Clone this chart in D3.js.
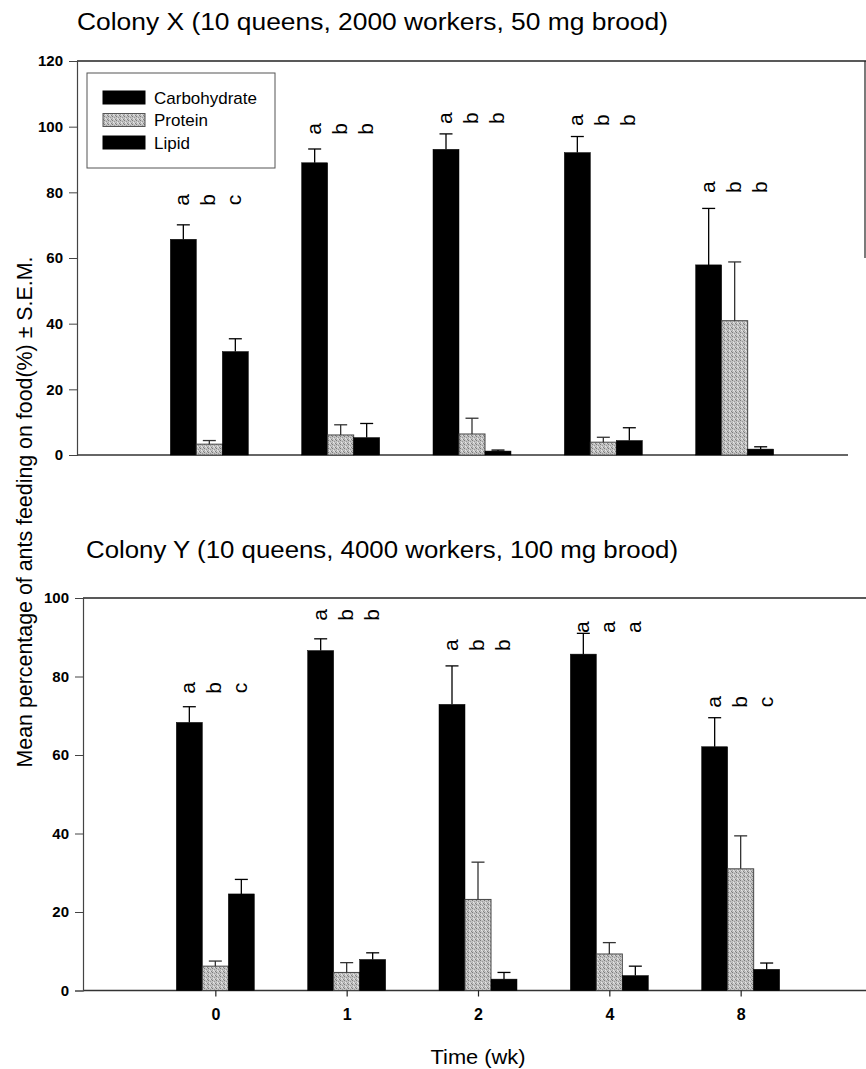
<!DOCTYPE html>
<html>
<head>
<meta charset="utf-8">
<script src="https://cdn.jsdelivr.net/npm/d3@7"></script>
<style>
  html, body { margin: 0; padding: 0; background: #fff; }
  svg { display: block; }
  text { font-family: "Liberation Sans", Arial, sans-serif; fill: #000; }
</style>
</head>
<body>
<svg id="chart" width="866" height="1069"></svg>
<script>
// ---------- data ----------
const weeks = ["0", "1", "2", "4", "8"];
const seriesNames = ["Carbohydrate", "Protein", "Lipid"];

// Colony X
const xCarb    = [65.7, 89.0, 93.1, 92.1, 57.9];
const xCarbSem = [4.4, 4.2, 4.7, 4.9, 17.2];
const xProt    = [3.3, 6.1, 6.4, 3.9, 40.9];
const xProtSem = [1.1, 3.1, 4.8, 1.5, 17.9];
const xLip     = [31.5, 5.3, 1.2, 4.4, 1.8];
const xLipSem  = [3.9, 4.3, 0.3, 3.9, 0.7];
const xLetters = [["a","b","c"], ["a","b","b"], ["a","b","b"], ["a","b","b"], ["a","b","b"]];
const xLetterLevel = [77.7, 99.3, 102.6, 102, 81.6];

// Colony Y
const yCarb    = [68.3, 86.6, 72.9, 85.7, 62.1];
const yCarbSem = [4.0, 3.0, 9.8, 5.3, 7.4];
const yProt    = [6.2, 4.6, 23.2, 9.3, 31.0];
const yProtSem = [1.3, 2.5, 9.5, 2.9, 8.4];
const yLip     = [24.6, 7.9, 2.9, 3.8, 5.4];
const yLipSem  = [3.7, 1.7, 1.7, 2.4, 1.6];
const yLetters = [["a","b","c"], ["a","b","b"], ["a","b","b"], ["a","a","a"], ["a","b","c"]];
const yLetterLevel = [77.1, 95.7, 88, 92.6, 73.5];

const ticksTopPanel = [0, 20, 40, 60, 80, 100, 120];
const ticksBottomPanel = [0, 20, 40, 60, 80, 100];

const titleX = "Colony X (10 queens, 2000 workers, 50 mg brood)";
const titleY = "Colony Y (10 queens, 4000 workers, 100 mg brood)";
const yAxisLabel = "Mean percentage of ants feeding on food(%) \u00B1 S.E.M.";
const xAxisLabel = "Time (wk)";

// ---------- drawing ----------
const svg = d3.select("#chart");
const defs = svg.append("defs");
const pat = defs.append("pattern").attr("id", "stipple")
  .attr("patternUnits", "userSpaceOnUse").attr("width", 4).attr("height", 4);
pat.append("rect").attr("width", 4).attr("height", 4).attr("fill", "#c2c2c2");
[[0,0,"#7a7a7a"],[2,1,"#999"],[1,2,"#e8e8e8"],[3,3,"#828282"],[2,3,"#dedede"],[0,2,"#a8a8a8"]].forEach(([px,py,c]) =>
  pat.append("rect").attr("x", px).attr("y", py).attr("width", 1).attr("height", 1).attr("fill", c));

const fills = ["#000", "url(#stipple)", "#000"];
const strokes = ["#000", "#444", "#000"];
const barW = 26;

function panel(cfg) {
  const g = svg.append("g");
  const y = d3.scaleLinear().domain([0, cfg.max]).range([cfg.y0, cfg.yTop]);
  const x = d3.scalePoint().domain(weeks).range([cfg.axisX + 1, cfg.axisX + 789]).padding(1);

  g.append("line").attr("x1", cfg.axisX).attr("x2", 866).attr("y1", y(cfg.max)).attr("y2", y(cfg.max))
    .attr("stroke", "#222").attr("stroke-width", 1.3);
  if (cfg.rightDown !== undefined) {
    g.append("line").attr("x1", 865).attr("x2", 865).attr("y1", y(cfg.max)).attr("y2", y(cfg.rightDown))
      .attr("stroke", "#222").attr("stroke-width", 1.2);
  }
  g.append("line").attr("x1", cfg.axisX).attr("x2", cfg.baseEnd).attr("y1", y(0)).attr("y2", y(0))
    .attr("stroke", "#333").attr("stroke-width", 1.3);

  const ya = g.append("g").attr("transform", `translate(${cfg.axisX},0)`)
    .call(d3.axisLeft(y).tickValues(cfg.ticks).tickSize(8).tickPadding(6).tickFormat(d3.format("d")));
  ya.select(".domain").attr("stroke", "#444").attr("stroke-width", 1.2);
  ya.selectAll(".tick line").attr("stroke", "#444");
  ya.selectAll("text").style("font-size", "15px").style("font-weight", "bold")
    .style("font-family", "'Liberation Sans', Arial, sans-serif");

  svg.append("text").attr("x", cfg.titleX).attr("y", cfg.titleY)
    .attr("textLength", cfg.titleLen).attr("lengthAdjust", "spacingAndGlyphs")
    .style("font-size", "23px").text(cfg.title);

  cfg.series.forEach((s, si) => {
    const bg = g.append("g");
    bg.selectAll("rect").data(s.vals).join("rect")
      .attr("x", (d, i) => x(weeks[i]) + (si - 1.5) * barW)
      .attr("y", d => y(d))
      .attr("width", barW)
      .attr("height", d => y(0) - y(d))
      .attr("fill", fills[si])
      .attr("stroke", strokes[si])
      .attr("stroke-width", si === 1 ? 1 : 0.5);
    const eg = g.append("g").attr("stroke", si === 1 ? "#333" : "#000").attr("stroke-width", 1.3);
    s.vals.forEach((v, i) => {
      const cx = x(weeks[i]) + (si - 1) * barW;
      const t = y(v + s.sem[i]);
      eg.append("line").attr("x1", cx).attr("x2", cx).attr("y1", y(v)).attr("y2", t);
      eg.append("line").attr("x1", cx - 6.5).attr("x2", cx + 6.5).attr("y1", t).attr("y2", t);
    });
  });

  cfg.letters.forEach((arr, i) => {
    arr.forEach((L, si) => {
      const cx = x(weeks[i]) + (si - 1) * barW - 1;
      const cy = y(cfg.letterLevel[i]);
      g.append("text").attr("transform", `translate(${cx + 7},${cy}) rotate(-90)`)
        .attr("text-anchor", "middle").style("font-size", "21px").text(L);
    });
  });
  return {x, y};
}

function legend() {
  const lg = svg.append("g");
  lg.append("rect").attr("x", 87).attr("y", 73).attr("width", 188).attr("height", 95)
    .attr("fill", "#fff").attr("stroke", "#555").attr("stroke-width", 1);
  seriesNames.forEach((n, i) => {
    lg.append("rect").attr("x", 103).attr("y", 91 + i * 22.5).attr("width", 42).attr("height", 13)
      .attr("fill", fills[i]).attr("stroke", i === 1 ? "#555" : "#000").attr("stroke-width", 1);
    lg.append("text").attr("x", 154).attr("y", 97.5 + i * 22.5).attr("dy", "0.36em")
      .style("font-size", "17px").text(n);
  });
}

const panelTop = panel({
  max: 120, y0: 455, yTop: 61, axisX: 77, ticks: ticksTopPanel, rightDown: 60, baseEnd: 848,
  title: titleX, titleX: 77, titleY: 30, titleLen: 591,
  series: [{vals: xCarb, sem: xCarbSem}, {vals: xProt, sem: xProtSem}, {vals: xLip, sem: xLipSem}],
  letters: xLetters, letterLevel: xLetterLevel
});
legend();

const panelBot = panel({
  max: 100, y0: 990.5, yTop: 598, axisX: 83, ticks: ticksBottomPanel, baseEnd: 866,
  title: titleY, titleX: 86, titleY: 558, titleLen: 592,
  series: [{vals: yCarb, sem: yCarbSem}, {vals: yProt, sem: yProtSem}, {vals: yLip, sem: yLipSem}],
  letters: yLetters, letterLevel: yLetterLevel
});

const xa = svg.append("g").attr("transform", `translate(0,${panelBot.y(0)})`)
  .call(d3.axisBottom(panelBot.x).tickSize(6).tickPadding(12));
xa.select(".domain").remove();
xa.selectAll(".tick line").attr("stroke", "#222").attr("stroke-width", 1.2);
xa.selectAll("text").style("font-size", "16px").style("font-weight", "bold")
  .style("font-family", "'Liberation Sans', Arial, sans-serif");

svg.append("text").attr("x", panelBot.x("2")).attr("y", 1064).attr("text-anchor", "middle")
  .attr("textLength", 95).attr("lengthAdjust", "spacingAndGlyphs")
  .style("font-size", "20px").text(xAxisLabel);
svg.append("text").attr("transform", "translate(32,512) rotate(-90)").attr("text-anchor", "middle")
  .attr("textLength", 511).attr("lengthAdjust", "spacingAndGlyphs")
  .style("font-size", "22px").text(yAxisLabel);
</script>
</body>
</html>
